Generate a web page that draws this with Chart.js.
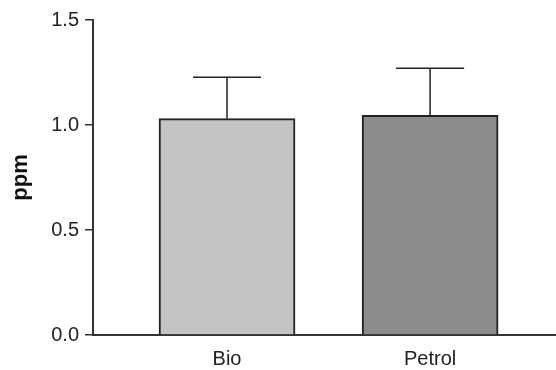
<!DOCTYPE html>
<html>
<head>
<meta charset="utf-8">
<script src="https://cdn.jsdelivr.net/npm/chart.js@4.4.4/dist/chart.umd.min.js"></script>
<style>
  html, body { margin: 0; padding: 0; background: #fff; }
  #wrap { width: 556px; height: 370px; }
</style>
</head>
<body>
<div id="wrap"><canvas id="chart"></canvas></div>
<script>
const categories = ['Bio', 'Petrol'];
const means = [1.03, 1.046];
const errors = [0.197, 0.224];
const yTicks = [0.0, 0.5, 1.0, 1.5];

const barColors = ['#c4c4c4', '#8c8c8c'];
const inkColor = '#222';

// error bars drawn from the scales, cap half the bar width
const errorBars = {
    id: 'errorBars',
    afterDatasetsDraw(chart) {
        const ctx = chart.ctx;
        const xScale = chart.scales.x;
        const yScale = chart.scales.y;
        ctx.save();
        ctx.strokeStyle = inkColor;
        ctx.lineWidth = 1.5;
        means.forEach((m, i) => {
            const x = xScale.getPixelForValue(i);
            const yBar = yScale.getPixelForValue(m);
            const yTop = yScale.getPixelForValue(m + errors[i]);
            ctx.beginPath();
            ctx.moveTo(x, yBar);
            ctx.lineTo(x, yTop);
            ctx.moveTo(x - 34, yTop);
            ctx.lineTo(x + 34, yTop);
            ctx.stroke();
        });
        ctx.restore();
    }
};

const data = {
    datasets: [
        {
            label: 'ppm',
            data: means.map((v, i) => ({ x: i, y: v })),
            backgroundColor: barColors,
            borderColor: inkColor,
            borderWidth: 2,
            barThickness: 136
        }
    ]
};

const options = {
    responsive: true,
    maintainAspectRatio: false,
    animation: false,
    layout: {
        padding: { top: 20, right: 0, bottom: 0, left: 0 }
    },
    plugins: {
        legend: { display: false },
        tooltip: { enabled: false }
    },
    scales: {
        x: {
            type: 'linear',
            offset: false,
            min: -0.66,
            max: 1.62,
            afterBuildTicks: function (scale) {
                scale.ticks = categories.map((c, i) => ({ value: i }));
            },
            afterFit: function (scale) {
                scale.height = 35;
            },
            grid: { display: false },
            border: { display: true, color: '#333', width: 2 },
            ticks: {
                color: inkColor,
                padding: 4,
                maxRotation: 0,
                font: { family: 'Liberation Sans', size: 20 },
                callback: function (value) {
                    return categories[value];
                }
            }
        },
        y: {
            min: 0,
            max: 1.5,
            afterBuildTicks: function (scale) {
                scale.ticks = yTicks.map(v => ({ value: v }));
            },
            afterFit: function (scale) {
                scale.width = 93;
            },
            grid: {
                display: true,
                drawOnChartArea: false,
                drawTicks: true,
                tickLength: 8,
                tickColor: '#333',
                lineWidth: 1.5
            },
            border: { display: true, color: '#333', width: 2 },
            ticks: {
                color: inkColor,
                padding: 6,
                font: { family: 'Liberation Sans', size: 20 },
                callback: function (value) {
                    return value.toFixed(1);
                }
            },
            title: {
                display: true,
                text: 'ppm',
                color: '#111',
                padding: { top: 8, bottom: 0 },
                font: { family: 'Liberation Sans', size: 22, weight: 'bold' }
            }
        }
    }
};

new Chart(document.getElementById('chart'), {
    type: 'bar',
    data,
    options,
    plugins: [errorBars]
});
</script>
</body>
</html>
